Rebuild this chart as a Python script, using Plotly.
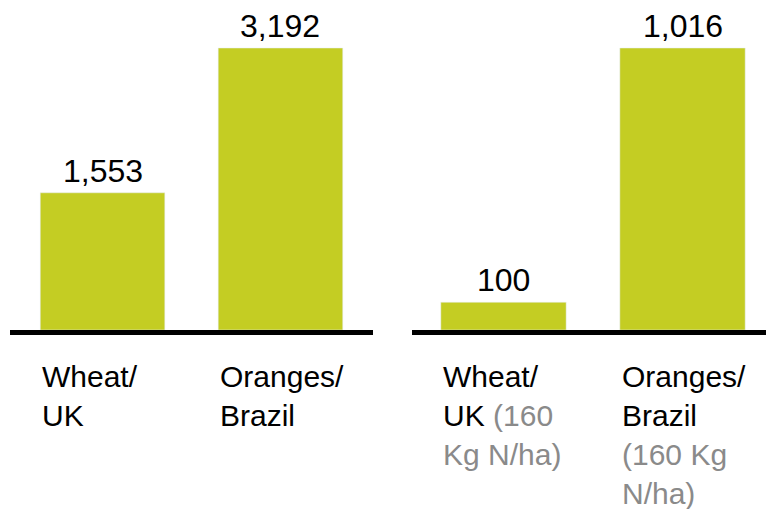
import plotly.graph_objects as go

# Data
categories = ["Wheat/UK", "Oranges/Brazil"]
left_values = [1553, 3192]
right_values = [100, 1016]
left_labels = ["Wheat/<br>UK", "Oranges/<br>Brazil"]
right_labels = [
    "Wheat/<br>UK <span style='color:#8a8a8a'>(160</span><br><span style='color:#8a8a8a'>Kg N/ha)</span>",
    "Oranges/<br>Brazil<br><span style='color:#8a8a8a'>(160 Kg</span><br><span style='color:#8a8a8a'>N/ha)</span>",
]

BAR = "#c4cd23"
FONT = "Arial, Liberation Sans, sans-serif"
OFF = 8  # page body margin
W, H = 774 - OFF, 509 - OFF
bw = 0.70
xpos = [0, 1]

fig = go.Figure()
fig.add_trace(go.Bar(x=xpos, y=left_values, width=bw, marker_color=BAR,
                     xaxis="x", yaxis="y", hoverinfo="y"))
fig.add_trace(go.Bar(x=xpos, y=right_values, width=bw, marker_color=BAR,
                     xaxis="x2", yaxis="y2", hoverinfo="y"))

base_px = 330 - OFF
ydom = [(H - base_px) / H, 1]
top_px = 48 - OFF

ax_common = dict(showgrid=False, zeroline=False, showticklabels=False, ticks="",
                 showline=True, linecolor="black", linewidth=5, fixedrange=True)
fig.update_layout(
    width=W, height=H,
    margin=dict(l=0, r=0, t=0, b=0),
    paper_bgcolor="white", plot_bgcolor="white",
    showlegend=False,
    xaxis=dict(domain=[(10 - OFF) / W, (373 - OFF) / W], range=[-0.52, 1.52], anchor="y", **ax_common),
    yaxis=dict(domain=ydom, range=[0, 3192 * base_px / (base_px - top_px)], visible=False, fixedrange=True),
    xaxis2=dict(domain=[(412 - OFF) / W, 1.0], range=[-0.511, 1.511], anchor="y2", **ax_common),
    yaxis2=dict(domain=ydom, range=[0, 1016 * base_px / (base_px - top_px)], visible=False, fixedrange=True),
    font=dict(family=FONT, size=30, color="black"),
)

# value labels
for xr, yr, vals in (("x", "y", left_values), ("x2", "y2", right_values)):
    for i, v in enumerate(vals):
        fig.add_annotation(x=xpos[i], y=v, xref=xr, yref=yr, xanchor="center", yanchor="bottom",
                           showarrow=False, text=f"{v:,}", yshift=2,
                           font=dict(family=FONT, size=32, color="black"))

label_top = (H - (358 - OFF)) / H
for xr, labels in (("x", left_labels), ("x2", right_labels)):
    for i, t in enumerate(labels):
        fig.add_annotation(x=xpos[i] - bw / 2, y=label_top, xref=xr, yref="paper",
                           xanchor="left", yanchor="top", align="left", showarrow=False,
                           text=t, font=dict(family=FONT, size=30, color="black"))

fig.write_html("out.html")
